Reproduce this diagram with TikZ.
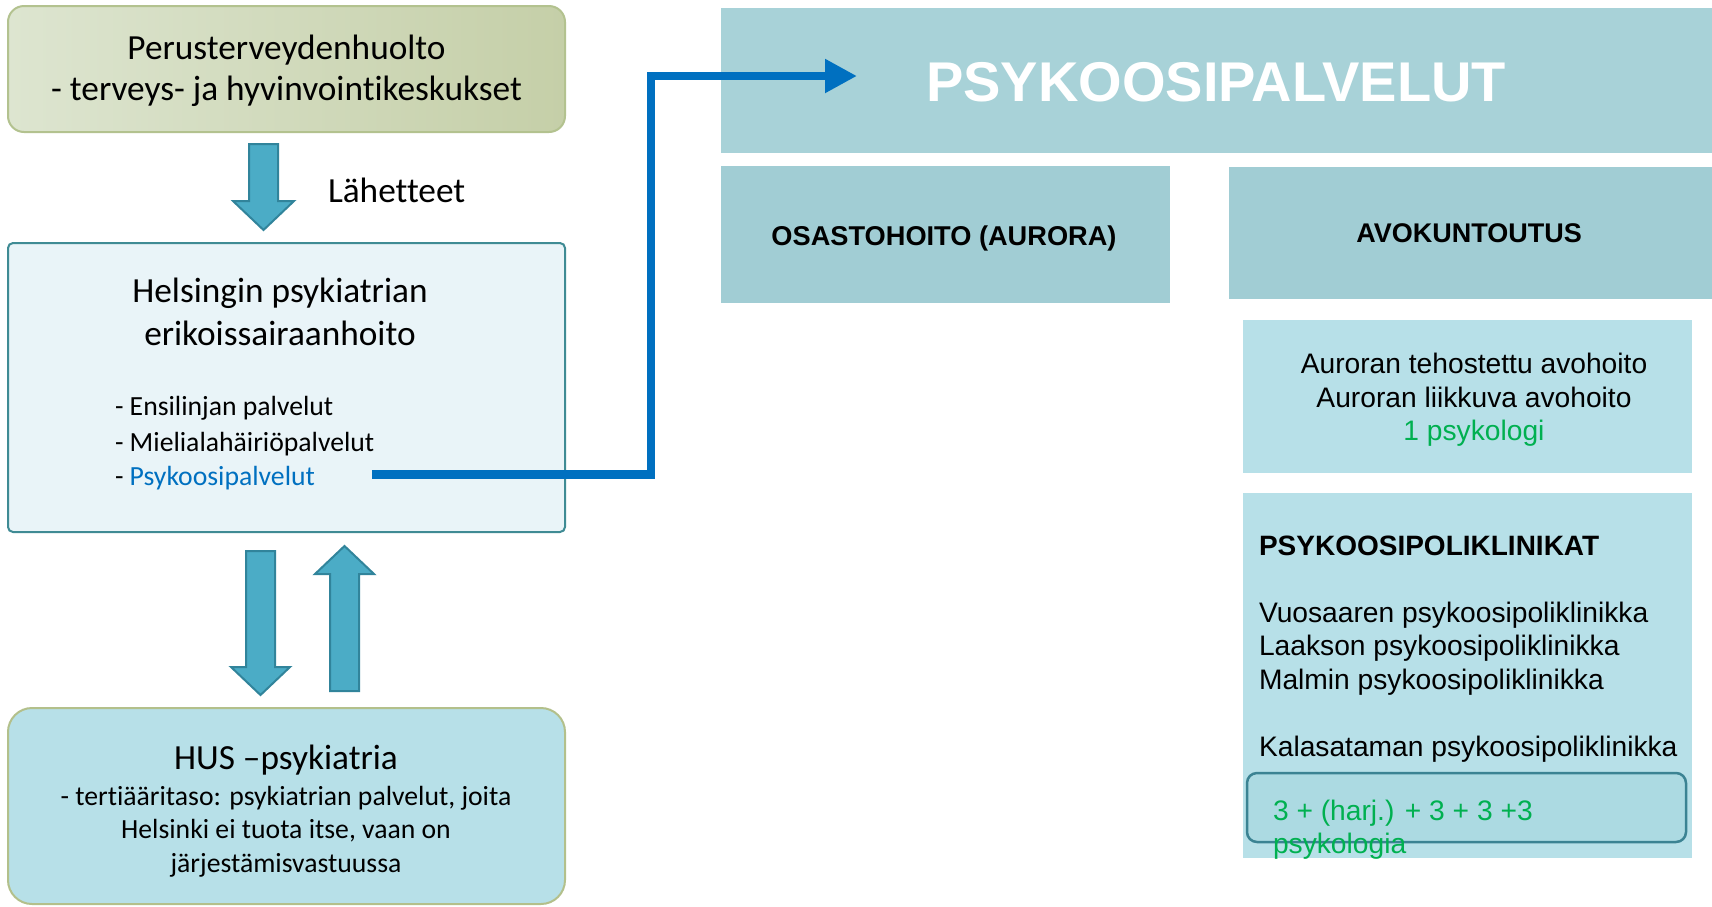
\documentclass[tikz,border=0pt]{standalone}
\usepackage{fontspec}
\setmainfont{Carlito}[Ligatures=NoCommon]
\newfontfamily\arialf{Liberation Sans}
\usetikzlibrary{arrows.meta}
\definecolor{olL}{HTML}{DDE5D0}
\definecolor{olR}{HTML}{C5CFA8}
\definecolor{olB}{HTML}{B3C28F}
\definecolor{helF}{HTML}{E9F4F8}
\definecolor{tealB}{HTML}{3F8B94}
\definecolor{arrF}{HTML}{4BACC6}
\definecolor{arrB}{HTML}{31849B}
\definecolor{husF}{HTML}{B7E0E8}
\definecolor{husB}{HTML}{B3C08B}
\definecolor{hdrF}{HTML}{A8D2D8}
\definecolor{subF}{HTML}{A1CDD4}
\definecolor{lightF}{HTML}{B7E0E8}
\definecolor{innF}{HTML}{ACDAE2}
\definecolor{innB}{HTML}{3B8393}
\definecolor{bluL}{HTML}{0070C0}
\definecolor{grn}{HTML}{00B050}
\tikzset{
  box/.style={inner sep=0pt, outer sep=0pt},
  txt/.style={inner sep=0pt, outer sep=0pt, anchor=base},
  txtl/.style={inner sep=0pt, outer sep=0pt, anchor=base west},
  fatarrow/.style={fill=arrF, draw=arrB, line width=2pt, line join=miter},
  bigc/.style={font=\fontsize{35.3}{41}\selectfont},
  smallc/.style={font=\fontsize{27.7}{33}\selectfont},
  ar/.style={font=\arialf\fontsize{28.2}{33}\selectfont},
  arb/.style={font=\arialf\bfseries\fontsize{27}{33}\selectfont},
}
\begin{document}
\begin{tikzpicture}[x=1pt,y=-1pt]
\useasboundingbox (0,0) rectangle (1712,906);
\fill[white] (0,0) rectangle (1712,906);

% ---------- left column ----------
\node[box, shade, left color=olL, right color=olR, draw=olB, line width=2pt,
      rounded corners=16pt, minimum width=557pt, minimum height=126pt] (top) at (286.5,69) {};
\node[txt, bigc] (top1) at (286.5,59) {Perusterveydenhuolto};
\node[txt, bigc] (top2) at (286.5,100) {- terveys- ja hyvinvointikeskukset};

\draw[fatarrow] (249,144) -- (278,144) -- (278,201) -- (294,201) -- (263.5,230)
  -- (233,201) -- (249,201) -- cycle;
\node[txtl, bigc] (lah) at (328,202) {Lähetteet};

\node[box, fill=helF, draw=tealB, line width=2pt, rounded corners=5pt,
      minimum width=557pt, minimum height=289pt] (hels) at (286.5,387.5) {};
\node[txt, bigc] (hels1) at (280,302) {Helsingin psykiatrian};
\node[txt, bigc] (hels2) at (280,345) {erikoissairaanhoito};
\node[txtl, smallc] (b1) at (115,415) {- Ensilinjan palvelut};
\node[txtl, smallc] (b2) at (115,451) {- Mielialahäiriöpalvelut};
\node[txtl, smallc] (b3) at (115,485) {- \textcolor{bluL}{Psykoosipalvelut}};

\draw[fatarrow] (246,551) -- (275,551) -- (275,667) -- (290,667) -- (260.5,695)
  -- (231,667) -- (246,667) -- cycle;
\draw[fatarrow] (330,691) -- (359,691) -- (359,574) -- (374,574) -- (344.5,546)
  -- (315,574) -- (330,574) -- cycle;

\node[box, fill=husF, draw=husB, line width=2pt, rounded corners=24pt,
      minimum width=557pt, minimum height=196pt] (hus) at (286.5,806) {};
\node[txt, bigc] (hus1) at (286,769) {HUS –psykiatria};
\node[txt, smallc] (hus2) at (286,805) {- tertiääritaso: psykiatrian palvelut, joita};
\node[txt, smallc] (hus3) at (286,838) {Helsinki ei tuota itse, vaan on};
\node[txt, smallc] (hus4) at (286,872) {järjestämisvastuussa};

% ---------- right column ----------
\node[box, fill=hdrF, minimum width=991pt, minimum height=145pt] (hdr) at (1216.5,80.5) {};
\node[txt, text=white, font=\arialf\bfseries\fontsize{56}{60}\selectfont] (hdrt) at (1216,101) {PSYKOOSIPALVELUT};

\node[box, fill=subF, minimum width=449pt, minimum height=137pt] (osa) at (945.5,234.5) {};
\node[txt, font=\arialf\bfseries\fontsize{27.2}{33}\selectfont] (osat) at (944,245) {OSASTOHOITO (AURORA)};

\node[box, fill=subF, minimum width=483pt, minimum height=132pt] (avo) at (1470.5,233) {};
\node[txt, arb] (avot) at (1469,242) {AVOKUNTOUTUS};

\node[box, fill=lightF, minimum width=449pt, minimum height=153pt] (aur) at (1467.5,396.5) {};
\node[txt, ar] (aur1) at (1474,373) {Auroran tehostettu avohoito};
\node[txt, ar] (aur2) at (1474,407) {Auroran liikkuva avohoito};
\node[txt, ar, text=grn] (aur3) at (1474,440) {1 psykologi};

\node[box, fill=lightF, minimum width=449pt, minimum height=365pt] (poli) at (1467.5,675.5) {};
\node[txtl, font=\arialf\bfseries\fontsize{28}{33}\selectfont] (polih) at (1259,555) {PSYKOOSIPOLIKLINIKAT};
\node[txtl, ar] (p1) at (1259,622) {Vuosaaren psykoosipoliklinikka};
\node[txtl, ar] (p2) at (1259,655) {Laakson psykoosipoliklinikka};
\node[txtl, ar] (p3) at (1259,689) {Malmin psykoosipoliklinikka};
\node[txtl, ar] (p4) at (1259,756) {Kalasataman psykoosipoliklinikka};
\node[box, fill=innF, draw=innB, line width=2.5pt, rounded corners=10pt,
      minimum width=439pt, minimum height=69pt] (inn) at (1466.5,807.5) {};
\node[txtl, ar, text=grn] (g1) at (1273,820) {3 + (harj.) + 3 + 3 +3};
\node[txtl, ar, text=grn] (g2) at (1273,853) {psykologia};

% ---------- blue connector ----------
\coordinate (src) at (372,474.5);
\coordinate (bend) at (651,76);
\coordinate (tgt) at (857,76);
\draw[bluL, line width=8.5pt, line join=miter, -{Triangle[length=32pt,width=32pt]}]
  (src) -| (bend) -- (tgt);
\end{tikzpicture}
\end{document}
